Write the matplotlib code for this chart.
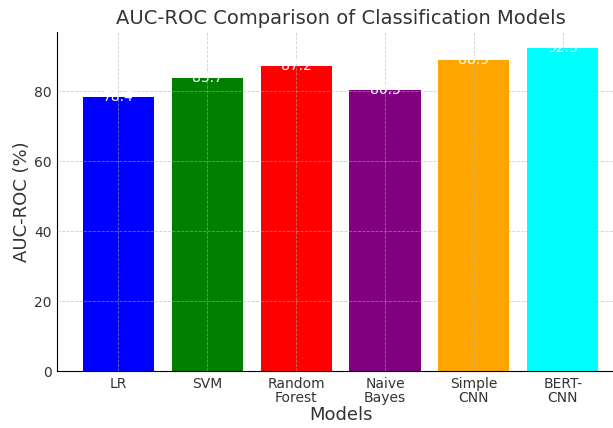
import matplotlib
matplotlib.use("Agg")
import matplotlib.pyplot as plt

# Data
models = ["LR", "SVM", "Random\nForest", "Naive\nBayes", "Simple\nCNN", "BERT-\nCNN"]
auc_roc = [78.4, 83.7, 87.2, 80.5, 88.9, 92.3]
colors = ["blue", "green", "red", "purple", "orange", "cyan"]

fig = plt.figure(figsize=(6.13, 4.28), dpi=100)
# axes run slightly past the right edge, like the cropped original
ax = fig.add_axes([0.093, 0.133, 0.925, 0.792])

bars = ax.bar(models, auc_roc, color=colors, width=0.8)

for bar, val in zip(bars, auc_roc):
    ax.text(bar.get_x() + bar.get_width() / 2, bar.get_height(), f"{val}",
            ha="center", va="center", color="white", fontsize=10)

ax.set_title("AUC-ROC Comparison of Classification Models", fontsize=14, color="#333333")
ax.set_xlabel("Models", fontsize=13, color="#333333", labelpad=1)
ax.set_ylabel("AUC-ROC (%)", fontsize=13, color="#333333", labelpad=2)
ax.tick_params(labelsize=10, colors="#333333", length=0, pad=4)
for lbl in ax.get_xticklabels():
    lbl.set_linespacing(1.0)
ax.grid(True, linestyle="--", linewidth=0.6, alpha=0.6)
ax.set_axisbelow(False)
ax.spines["top"].set_visible(False)
ax.spines["right"].set_visible(False)

plt.savefig("out.png", dpi=100)
